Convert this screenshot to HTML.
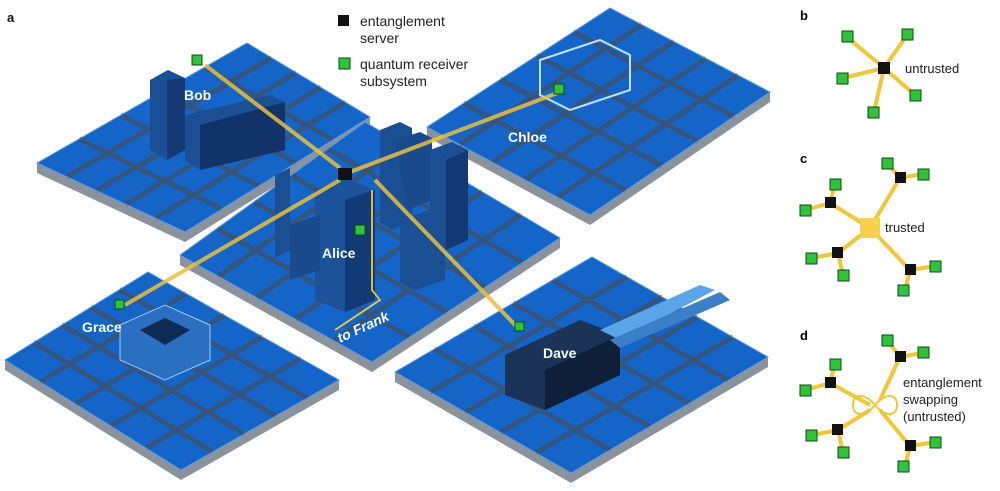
<!DOCTYPE html>
<html><head><meta charset="utf-8"><style>
html,body{margin:0;padding:0;background:#fff;}
svg{display:block;font-family:"Liberation Sans",Arial,sans-serif;}
</style></head><body>
<svg id="s" width="1000" height="491" viewBox="0 0 1000 491" xmlns="http://www.w3.org/2000/svg">
<g id="tiles"></g>
<g id="bld">
 <polygon points="150,80 168,70 185,78 185,150 167,160 150,150" fill="#1b4f93"/>
 <polygon points="167,80 185,78 185,150 167,160" fill="#133a72"/>
 <polygon points="185,115 270,95 285,102 285,150 200,170 185,160" fill="#1b4f93"/>
 <polygon points="200,125 285,102 285,150 200,170" fill="#12336a"/>
 <polygon points="540,60 600,40 630,55 630,90 570,110 540,95" fill="none" stroke="#bfe0ff" stroke-width="2"/>
 <polygon points="275,175 290,168 290,250 275,258" fill="#1b4f93"/>
 <polygon points="380,130 400,122 412,128 412,220 392,230 380,222" fill="#1b4f93"/>
 <polygon points="395,140 420,132 432,138 432,200 408,210" fill="#1a4a8c"/>
 <polygon points="430,150 452,142 468,150 468,240 446,250 430,242" fill="#1b4f93"/>
 <polygon points="446,160 468,150 468,240 446,250" fill="#133a72"/>
 <polygon points="400,220 430,210 445,218 445,280 415,290 400,282" fill="#1b4f93"/>
 <polygon points="315,190 345,178 375,190 375,300 345,312 315,300" fill="#1c5299"/>
 <polygon points="345,200 375,190 375,300 345,312" fill="#123a74"/>
 <polygon points="290,225 320,215 320,270 290,280" fill="#1a4a8c"/>
 <polygon points="120,325 165,305 210,325 210,360 165,380 120,360" fill="#2a6fc0" stroke="#9cc8ff" stroke-width="1"/>
 <polygon points="140,330 165,318 190,330 165,345" fill="#0f2a55"/>
 <polygon points="505,355 580,320 620,335 620,375 545,410 505,395" fill="#1a3356"/>
 <polygon points="545,370 620,335 620,375 545,410" fill="#101f38"/>
 <polygon points="600,330 700,285 715,290 620,340" fill="#5aa4e8"/>
 <polygon points="610,340 720,292 730,300 620,348" fill="#3c7fc8"/>
</g>
<g stroke="#e8c040" stroke-width="4" opacity="0.85" fill="none">
 <line x1="205" y1="65" x2="340" y2="168"/>
 <line x1="560" y1="92" x2="350" y2="172"/>
 <line x1="125" y1="305" x2="340" y2="180"/>
 <line x1="520" y1="330" x2="375" y2="180"/>
</g>
<polyline points="372,190 372,290 380,300 335,330" fill="none" stroke="#f0c63a" stroke-width="1.8"/>
<rect x="338" y="168" width="14" height="12" fill="#111"/>
<g fill="#2fc23a" stroke="#0b4a10" stroke-width="1">
 <rect x="192" y="55" width="10" height="10"/>
 <rect x="554" y="84" width="10" height="10"/>
 <rect x="115" y="300" width="9" height="9"/>
 <rect x="515" y="322" width="9" height="9"/>
 <rect x="355" y="225" width="10" height="10"/>
</g>
<g fill="#f4fbff" font-weight="bold" font-size="14">
 <text x="184" y="100">Bob</text>
 <text x="508" y="142">Chloe</text>
 <text x="322" y="258">Alice</text>
 <text x="82" y="332">Grace</text>
 <text x="543" y="358">Dave</text>
 <text x="340" y="343" transform="rotate(-25 340 343)" font-style="italic">to Frank</text>
</g>
<text x="7" y="22" font-weight="bold" font-size="13" fill="#111">a</text>
<rect x="338" y="15" width="11" height="11" fill="#111"/>
<text x="360" y="26" font-size="14" fill="#222">entanglement</text>
<text x="360" y="43" font-size="14" fill="#222">server</text>
<rect x="339" y="58" width="11" height="11" fill="#2fc23a" stroke="#0b4a10"/>
<text x="360" y="69" font-size="14" fill="#222">quantum receiver</text>
<text x="360" y="86" font-size="14" fill="#222">subsystem</text>

<text x="800" y="20" font-weight="bold" font-size="13">b</text>
<g stroke="#f0c63a" stroke-width="4">
 <line x1="848" y1="38" x2="884" y2="68"/><line x1="907" y1="35" x2="884" y2="68"/>
 <line x1="843" y1="78" x2="884" y2="68"/><line x1="915" y1="95" x2="884" y2="68"/>
 <line x1="874" y1="112" x2="884" y2="68"/>
</g>
<rect x="878" y="62" width="12" height="12" fill="#111"/>
<text x="905" y="73" font-size="13" fill="#222">untrusted</text>
<g fill="#2fc23a" stroke="#0b4a10">
 <rect x="842" y="31" width="11" height="11"/><rect x="902" y="29" width="11" height="11"/>
 <rect x="837" y="73" width="11" height="11"/><rect x="910" y="90" width="11" height="11"/>
 <rect x="868" y="107" width="11" height="11"/>
</g>
<text x="800" y="163" font-weight="bold" font-size="13">c</text>
<g stroke="#f0c63a" stroke-width="4">
 <line x1="830" y1="203" x2="870" y2="228"/><line x1="900" y1="178" x2="870" y2="228"/>
 <line x1="838" y1="253" x2="870" y2="228"/><line x1="910" y1="270" x2="870" y2="228"/>
 <line x1="830" y1="203" x2="805" y2="210"/><line x1="830" y1="203" x2="835" y2="184"/>
 <line x1="900" y1="178" x2="887" y2="163"/><line x1="900" y1="178" x2="922" y2="174"/>
 <line x1="838" y1="253" x2="812" y2="258"/><line x1="838" y1="253" x2="843" y2="275"/>
 <line x1="910" y1="270" x2="935" y2="266"/><line x1="910" y1="270" x2="905" y2="290"/>
</g>
<rect x="860" y="218" width="20" height="20" fill="#f5d24a"/>
<text x="885" y="232" font-size="13" fill="#222">trusted</text>
<g fill="#111"><rect x="825" y="197" width="11" height="11"/><rect x="895" y="172" width="11" height="11"/><rect x="832" y="247" width="11" height="11"/><rect x="905" y="264" width="11" height="11"/></g>
<g fill="#2fc23a" stroke="#0b4a10">
 <rect x="800" y="205" width="11" height="11"/><rect x="830" y="179" width="11" height="11"/>
 <rect x="882" y="158" width="11" height="11"/><rect x="918" y="169" width="11" height="11"/>
 <rect x="806" y="253" width="11" height="11"/><rect x="838" y="270" width="11" height="11"/>
 <rect x="930" y="261" width="11" height="11"/><rect x="898" y="285" width="11" height="11"/>
</g>
<text x="800" y="340" font-weight="bold" font-size="13">d</text>
<g stroke="#f0c63a" stroke-width="4">
 <line x1="830" y1="383" x2="870" y2="405"/><line x1="900" y1="357" x2="880" y2="400"/>
 <line x1="838" y1="430" x2="870" y2="410"/><line x1="910" y1="446" x2="880" y2="410"/>
 <line x1="830" y1="383" x2="805" y2="390"/><line x1="830" y1="383" x2="835" y2="364"/>
 <line x1="900" y1="357" x2="887" y2="340"/><line x1="900" y1="357" x2="922" y2="353"/>
 <line x1="838" y1="430" x2="812" y2="435"/><line x1="838" y1="430" x2="843" y2="452"/>
 <line x1="910" y1="446" x2="935" y2="442"/><line x1="910" y1="446" x2="905" y2="466"/>
</g>
<path d="M875,405 C865,393 853,393 853,405 C853,417 865,417 875,405 C885,393 897,393 897,405 C897,417 885,417 875,405Z" fill="none" stroke="#f0c63a" stroke-width="2"/>
<text x="903" y="387" font-size="13" fill="#222">entanglement</text>
<text x="903" y="404" font-size="13" fill="#222">swapping</text>
<text x="903" y="421" font-size="13" fill="#222">(untrusted)</text>
<g fill="#111"><rect x="825" y="377" width="11" height="11"/><rect x="895" y="351" width="11" height="11"/><rect x="832" y="424" width="11" height="11"/><rect x="905" y="440" width="11" height="11"/></g>
<g fill="#2fc23a" stroke="#0b4a10">
 <rect x="800" y="385" width="11" height="11"/><rect x="830" y="359" width="11" height="11"/>
 <rect x="882" y="335" width="11" height="11"/><rect x="918" y="347" width="11" height="11"/>
 <rect x="806" y="430" width="11" height="11"/><rect x="838" y="447" width="11" height="11"/>
 <rect x="930" y="437" width="11" height="11"/><rect x="898" y="461" width="11" height="11"/>
</g>
</svg>
<script>
var tiles=[
 [[37,163],[247,43],[370,117],[185,232]],
 [[427,127],[610,8],[770,92],[590,215]],
 [[180,255],[365,122],[560,238],[372,362]],
 [[5,360],[148,272],[339,380],[181,470]],
 [[395,372],[592,257],[768,357],[571,473]]
];
var g=document.getElementById('tiles'),h='';
function P(p){return p.map(function(a){return a[0]+','+a[1]}).join(' ')}
function lerp(a,b,t){return [a[0]+(b[0]-a[0])*t,a[1]+(b[1]-a[1])*t]}
tiles.forEach(function(t){
 var L=t[0],T=t[1],R=t[2],B=t[3],d=10;
 h+='<polygon points="'+P([L,B,R,[R[0],R[1]+d],[B[0],B[1]+d],[L[0],L[1]+d]])+'" fill="#8a929c"/>';
 h+='<polygon points="'+P(t)+'" fill="#1565c8"/>';
 for(var i=1;i<5;i++){var s=i/5;
  var a=lerp(L,T,s),b=lerp(B,R,s);h+='<line x1="'+a[0]+'" y1="'+a[1]+'" x2="'+b[0]+'" y2="'+b[1]+'" stroke="#34557f" stroke-width="5"/>';
  a=lerp(L,B,s);b=lerp(T,R,s);h+='<line x1="'+a[0]+'" y1="'+a[1]+'" x2="'+b[0]+'" y2="'+b[1]+'" stroke="#34557f" stroke-width="5"/>';}
 h+='<polygon points="'+P(t)+'" fill="none" stroke="#5b9be0" stroke-width="1"/>';
});
g.innerHTML=h;
</script>
</body></html>
